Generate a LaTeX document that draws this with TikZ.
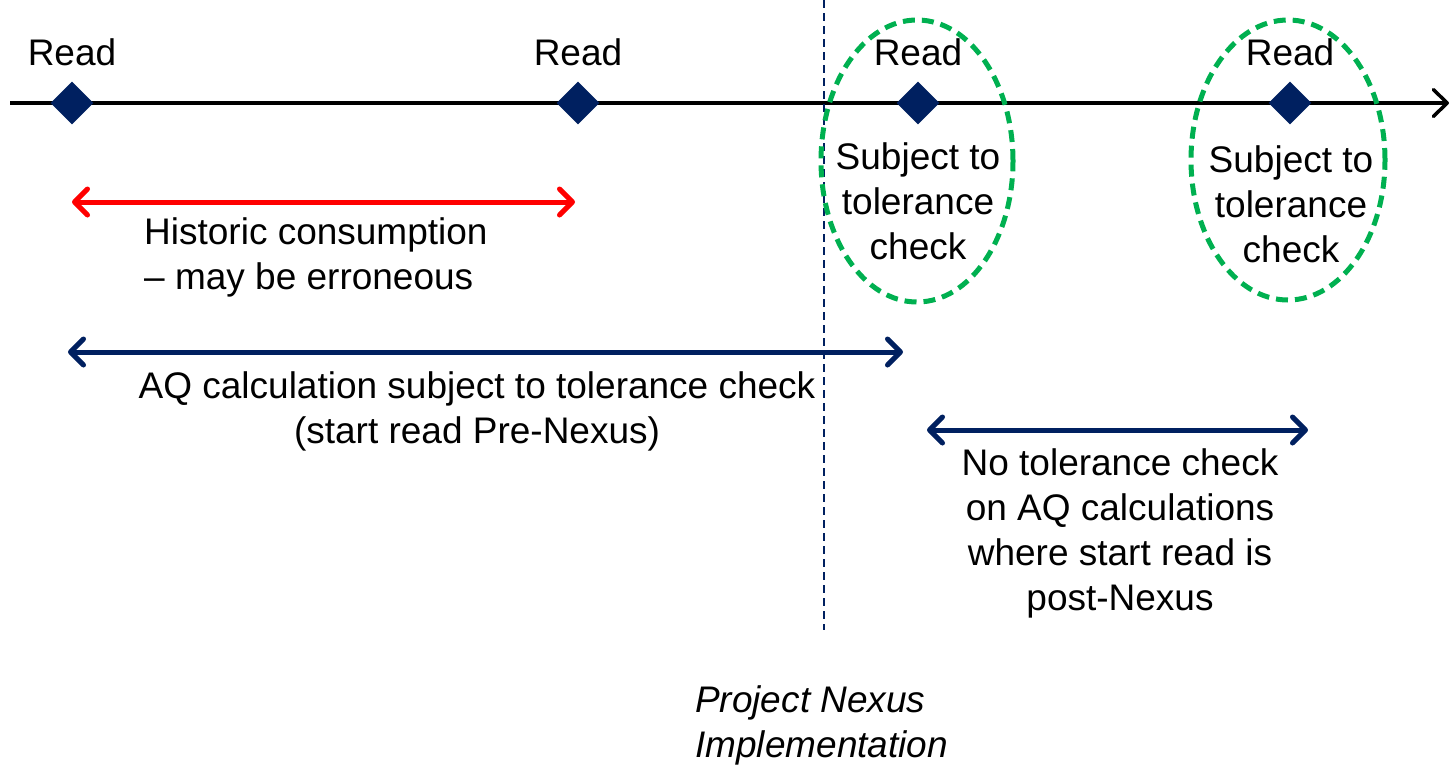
\documentclass[tikz,border=0pt]{standalone}
\usepackage{fontspec}
\setmainfont{Liberation Sans}
\usetikzlibrary{arrows.meta,shapes.geometric}
\definecolor{navy}{RGB}{0,32,96}
\definecolor{grn}{RGB}{0,176,80}
\begin{document}
\begin{tikzpicture}[x=1pt,y=-1pt,
  txt/.style={font=\fontsize{37}{45}\selectfont, inner sep=0pt},
  readpt/.style={diamond, fill=navy, draw=none, minimum width=43pt, minimum height=43pt, inner sep=0pt},
  barb/.tip={Straight Barb[length=13pt, width=26pt, round]},
  span/.style={line width=5pt, barb-barb},
  check/.style={ellipse, draw=grn, line width=5pt, dash pattern=on 12pt off 7pt, inner sep=0pt}]
\useasboundingbox (0,0) rectangle (1451,766);
% timeline
\coordinate (ax0) at (10,103);
\coordinate (ax1) at (1449,103);
\draw[line width=3.5pt, -{Straight Barb[length=14pt, width=27pt, round]}] (ax0) -- (ax1);
% implementation line
\coordinate (nx0) at (824,0);
\coordinate (nx1) at (824,630);
\draw[navy, line width=1.5pt, dash pattern=on 8pt off 5pt] (nx0) -- (nx1);
% tolerance ellipses
\node[check, minimum width=192pt, minimum height=282pt] (e1) at (917,161) {};
\node[check, minimum width=194pt, minimum height=280pt] (e2) at (1288,160) {};
% reads
\node[readpt] (r1) at (72,103) {};
\node[readpt] (r2) at (578,103) {};
\node[readpt] (r3) at (918,103) {};
\node[readpt] (r4) at (1290,103) {};
\node[txt, anchor=base] (l1) at (72,65) {Read};
\node[txt, anchor=base] (l2) at (578,65) {Read};
\node[txt, anchor=base] (l3) at (918,65) {Read};
\node[txt, anchor=base] (l4) at (1290,65) {Read};
\node[txt, anchor=north, align=center] (s1) at (918,142) {Subject to\\tolerance\\check};
\node[txt, anchor=north, align=center] (s2) at (1291,145) {Subject to\\tolerance\\check};
% historic consumption
\coordinate (h0) at (72,202);
\coordinate (h1) at (575,202);
\draw[red, span] (h0) -- (h1);
\node[txt, anchor=north west, align=left] (ht) at (144,217) {Historic consumption\\\textendash\ may be erroneous};
% AQ calculation
\coordinate (a0) at (68,352);
\coordinate (a1) at (903,352);
\draw[navy, span] (a0) -- (a1);
\node[txt, anchor=north, align=center] (at) at (477,371) {AQ calculation subject to tolerance check\\(start read Pre-Nexus)};
% no tolerance check
\coordinate (n0) at (927,430);
\coordinate (n1) at (1308,430);
\draw[navy, span] (n0) -- (n1);
\node[txt, anchor=north, align=center] (nt) at (1120,448) {No tolerance check\\on AQ calculations\\where start read is\\post-Nexus};
% project label
\node[txt, anchor=north west, align=left, font=\fontsize{37}{45}\selectfont\itshape] (pn) at (695,685) {Project Nexus\\Implementation};
\end{tikzpicture}
\end{document}
